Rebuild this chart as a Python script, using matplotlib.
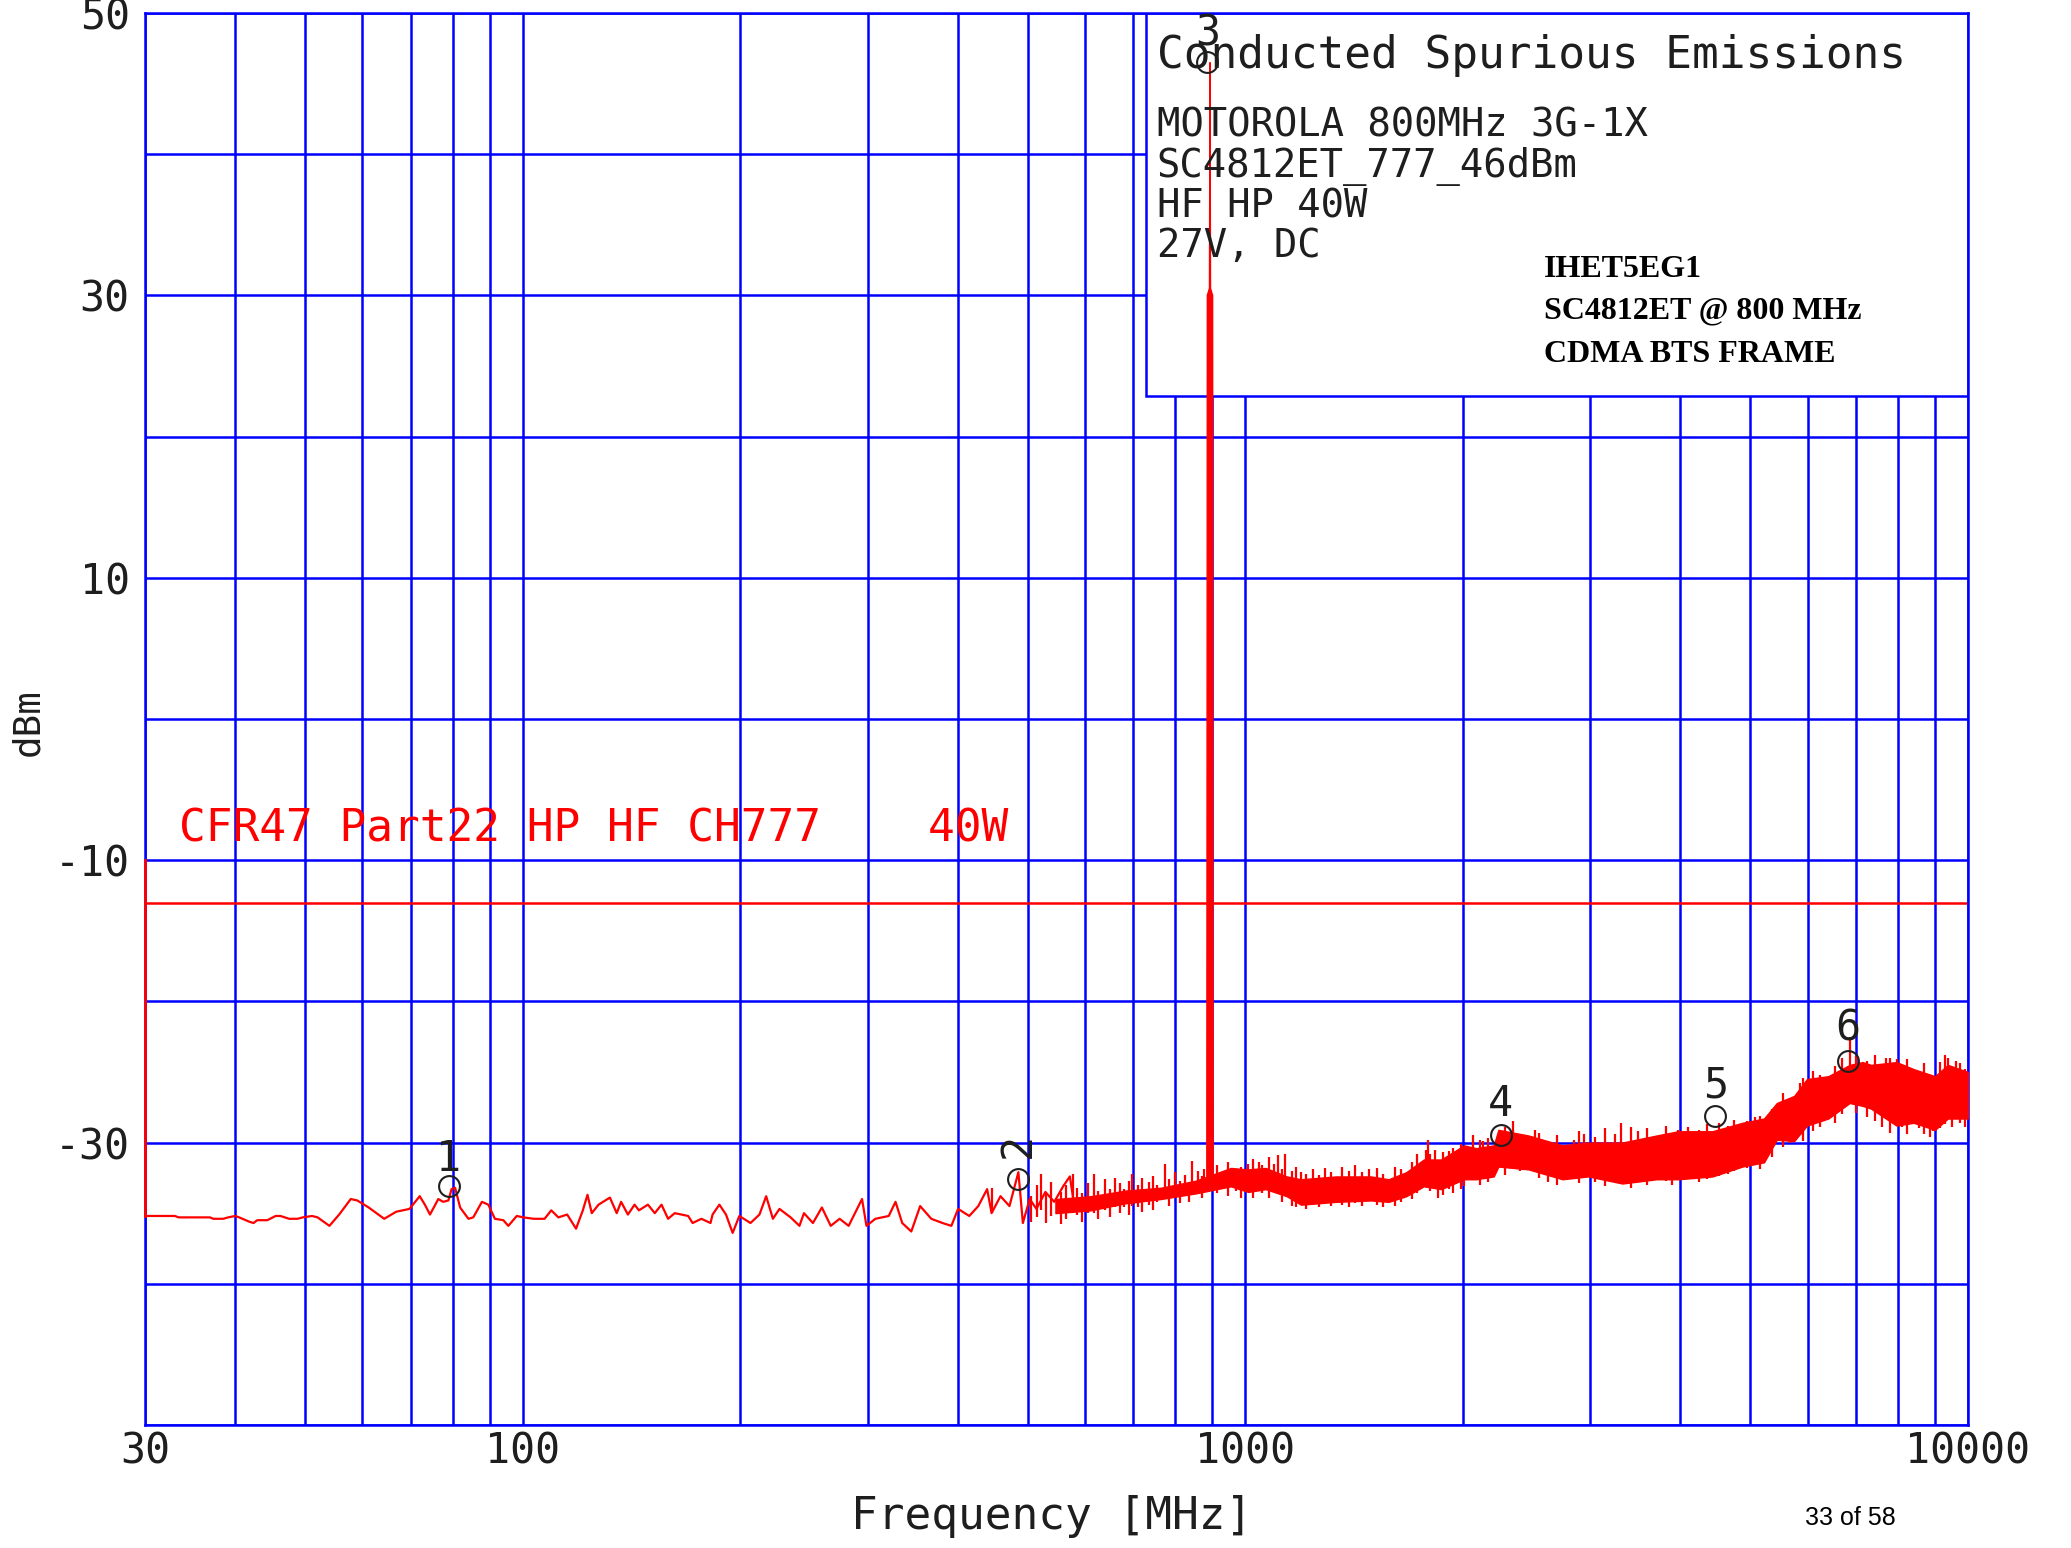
"""Conducted spurious emissions plot for the SC4812ET 800 MHz frame.

Spectrum-analyzer style sweep: log frequency axis, blue grid, red
trace with the -13 dBm limit line and numbered peak markers.
"""

import matplotlib

matplotlib.use("Agg")
import matplotlib.pyplot as plt
from matplotlib.patches import Rectangle
from matplotlib.ticker import NullFormatter

# --- sweep, low band (sparse enough to draw as a plain line) --------------
trace_freq = [
    30.0, 33.0, 33.4, 36.9, 37.3, 38.5, 39.1, 40.0, 40.5, 41.8, 42.4, 42.9,
    44.3, 45.5, 46.2, 47.5, 48.8, 49.6, 51.1, 52.0, 54.0, 55.7, 57.8, 59.0,
    61.2, 64.3, 66.8, 69.7, 72.0, 73.2, 74.4, 76.4, 77.6, 78.9, 79.7, 80.6,
    81.9, 84.1, 85.4, 87.8, 89.6, 91.5, 94.0, 95.5, 98.1, 100.2, 103.6,
    107.2, 109.5, 112.0, 115.2, 118.5, 121.1, 122.9, 124.6, 127.3, 132.0,
    134.9, 136.8, 139.8, 142.8, 144.8, 149.0, 152.3, 155.6, 158.9, 162.3,
    169.4, 171.8, 176.7, 181.9, 183.1, 187.1, 191.1, 195.2, 199.4, 206.6,
    212.6, 217.2, 221.9, 226.6, 234.8, 241.5, 245.0, 252.1, 259.4, 266.8,
    274.5, 282.5, 294.8, 299.0, 307.6, 321.0, 328.0, 335.1, 344.9, 354.8,
    367.6, 381.0, 391.9, 400.4, 414.9, 427.0, 439.2, 445.5, 458.3, 471.6,
    485.2, 492.2, 503.0, 514.0, 528.8, 544.0, 559.6, 571.7, 579.9,
]
trace_dbm = [
    -35.2, -35.2, -35.3, -35.3, -35.4, -35.4, -35.3, -35.2, -35.3, -35.6,
    -35.7, -35.5, -35.5, -35.2, -35.2, -35.4, -35.4, -35.3, -35.2, -35.3,
    -35.9, -35.1, -34.0, -34.1, -34.6, -35.4, -34.9, -34.7, -33.8, -34.4,
    -35.1, -34.0, -34.2, -34.1, -33.3, -33.2, -34.6, -35.4, -35.3, -34.2,
    -34.4, -35.4, -35.5, -35.9, -35.2, -35.3, -35.4, -35.4, -34.8, -35.3,
    -35.1, -36.1, -34.8, -33.7, -35.0, -34.4, -33.9, -35.0, -34.2, -35.1,
    -34.4, -34.8, -34.4, -35.0, -34.4, -35.4, -35.0, -35.2, -35.7, -35.4,
    -35.7, -35.1, -34.4, -35.1, -36.4, -35.2, -35.7, -35.1, -33.8, -35.4,
    -34.7, -35.3, -35.9, -35.0, -35.7, -34.6, -35.9, -35.4, -35.9, -34.0,
    -35.9, -35.4, -35.2, -34.2, -35.7, -36.3, -34.5, -35.4, -35.7, -35.9,
    -34.7, -35.2, -34.5, -33.3, -35.0, -33.8, -34.5, -32.1, -35.7, -34.0,
    -34.7, -33.5, -34.2, -33.1, -32.4, -34.5,
]

# --- sweep, high band (dense noise: min / max envelope) -------------------
band_freq = [
    546, 611, 683, 764, 854, 955, 1009, 1067, 1141, 1194, 1335, 1493, 1579,
    1670, 1766, 1867, 2008, 2087, 2207, 2240, 2465, 2748, 2982, 3325, 3709,
    3973, 4432, 4875, 5222, 5440, 5748, 5988, 6409, 6862, 7148, 7346, 7967,
    8413, 9006, 9382, 10000,
]
band_hi = [
    -34.0, -33.8, -33.4, -33.2, -32.7, -31.8, -31.9, -31.8, -32.4, -32.6,
    -32.4, -32.4, -32.6, -32.1, -31.2, -31.2, -30.2, -30.4, -30.2, -29.1,
    -29.5, -30.2, -30.0, -30.0, -29.5, -29.2, -29.2, -28.6, -28.3, -27.2,
    -26.7, -25.5, -25.3, -24.5, -24.3, -24.5, -24.3, -24.8, -25.3, -24.5,
    -25.0,
]
band_lo = [
    -35.0, -34.8, -34.3, -34.0, -33.6, -33.1, -33.5, -33.3, -33.8, -34.4,
    -34.2, -34.1, -34.2, -33.8, -33.1, -33.3, -32.6, -32.6, -32.4, -31.7,
    -31.9, -32.6, -32.4, -32.9, -32.6, -32.6, -32.4, -31.7, -31.4, -29.8,
    -29.9, -28.8, -28.3, -27.2, -27.4, -27.6, -28.8, -28.6, -29.1, -28.3,
    -28.3,
]

# single-bin excursions sticking out of the noise band
spike_freq = [
    446, 522, 577, 617, 660, 698, 773, 844, 878, 1009, 1043, 1110, 1136,
    1194, 1485, 1776, 1789, 1828, 1848, 1911, 2008, 2052, 2063, 2134, 2350,
    2516, 2941, 3311, 3973, 4524, 5082, 5670, 5907, 6862, 7703, 7967, 8944,
    9382, 9635,
]
spike_top = [
    -33.2, -32.2, -32.2, -32.2, -32.5, -32.2, -31.5, -31.3, -31.9, -31.5,
    -31.4, -30.9, -30.8, -32.1, -31.9, -30.5, -29.8, -30.5, -31.5, -30.6,
    -30.5, -30.4, -29.5, -29.9, -28.5, -29.1, -29.4, -28.6, -29.1, -28.6,
    -28.2, -27.5, -25.4, -22.5, -24.0, -24.1, -25.5, -24.0, -24.2,
]
spike_base = [
    -35.0, -34.8, -35.0, -35.0, -34.6, -34.5, -34.0, -33.6, -33.4, -33.5,
    -33.3, -33.5, -33.8, -34.4, -34.1, -33.1, -32.8, -33.2, -33.9, -33.3,
    -33.1, -32.6, -32.6, -32.5, -31.7, -31.9, -32.4, -32.9, -32.6, -32.4,
    -31.6, -30.0, -29.9, -27.2, -27.8, -28.8, -29.2, -28.3, -28.3,
]

# peak-to-peak swing of the noise between the envelope points
noise_freq = [
    505, 515, 530, 538, 555, 565, 585, 595, 605, 625, 640, 650, 670, 680,
    690, 710, 720, 735, 745, 755, 785, 800, 812, 825, 835, 860, 870,
    915, 930, 945, 970, 985, 1025, 1055, 1080, 1095, 1125, 1160, 1175,
    1215, 1240, 1265, 1290, 1315, 1360, 1390, 1420, 1450, 1520, 1550,
    1610, 1640, 1700, 1730, 1800, 1880, 1940, 1990, 2110, 2170,
    2290, 2400, 2550, 2620, 2700, 2850, 2900, 3050, 3150, 3250, 3420, 3500,
    3600, 3820, 3900, 4100, 4250, 4350, 4650, 4750, 4950, 5150, 5350,
    5550, 5850, 6100, 6250, 6550, 6700, 7000, 7250, 7450, 7600, 7800, 8100,
    8250, 8550, 8700, 8850, 9150, 9300, 9500, 9750, 9900,
]
noise_top = [
    -33.8, -33.0, -33.6, -32.8, -33.5, -33.0, -33.2, -33.6, -32.9, -33.4,
    -32.6, -33.3, -32.9, -33.3, -32.7, -33.0, -32.5, -32.8, -32.4, -33.0,
    -32.6, -32.1, -32.7, -32.3, -32.8, -32.0, -32.4,
    -31.6, -32.2, -31.4, -32.0, -31.7, -31.2, -31.6, -31.0, -31.5, -31.9,
    -32.0, -31.7, -32.2, -31.9, -32.3, -31.8, -32.1, -31.7, -32.0, -31.6,
    -32.1, -31.8, -32.2, -31.7, -31.9, -31.4, -30.8, -30.8, -30.7, -30.4,
    -30.1, -29.8, -29.7,
    -28.9, -29.6, -29.3, -30.0, -29.5, -29.8, -29.2, -29.6, -29.0, -29.4,
    -28.9, -29.2, -29.0, -28.8, -29.3, -28.9, -29.1, -28.7, -28.8, -28.4,
    -28.5, -28.1, -27.6,
    -26.5, -25.8, -24.9, -25.2, -24.6, -24.0, -23.9, -24.2, -23.8, -24.6,
    -24.0, -24.5, -24.1, -24.9, -24.4, -25.2, -24.3, -23.8, -24.7, -24.4,
    -24.8,
]
noise_base = [
    -35.6, -35.3, -35.7, -35.2, -35.8, -35.4, -35.1, -35.6, -35.0, -35.4,
    -34.8, -35.3, -35.0, -34.6, -35.1, -34.6, -34.9, -34.4, -34.8, -34.2,
    -34.5, -33.9, -34.3, -33.7, -34.2, -33.6, -33.9,
    -33.6, -33.2, -33.8, -33.4, -33.9, -33.9, -33.6, -33.9, -33.5, -34.2,
    -34.5, -34.6, -34.7, -34.4, -34.6, -34.3, -34.5, -34.4, -34.6, -34.3,
    -34.5, -34.4, -34.6, -34.5, -34.2, -34.0, -33.6, -33.4, -33.7, -33.6,
    -33.3, -33.0, -32.8,
    -32.3, -32.0, -32.5, -32.8, -33.0, -32.6, -32.9, -32.8, -33.1, -32.7,
    -33.2, -32.8, -33.0, -32.7, -33.0, -32.5, -32.8, -32.6, -32.2, -32.0,
    -31.8, -31.9, -31.0,
    -30.3, -29.5, -29.2, -28.9, -28.6, -28.0, -27.9, -28.2, -28.5, -28.9,
    -29.3, -28.9, -29.4, -29.0, -29.4, -29.6, -29.0, -28.7, -28.9, -28.6,
    -28.9,
]

# CH777 carrier (outline of the thick vertical line)
carrier_freq = [884.5, 886.0, 892.0, 893.6, 895.0, 901.0, 902.5]
carrier_dbm = [-32.5, 30.0, 30.5, 46.5, 30.5, 30.0, -32.5]

# limit line and the left edge riser
limit_freq = [30, 10000]
limit_dbm = [-13, -13]
edge_freq = [30, 30]
edge_dbm = [-10, -35.2]

# peak markers: label, frequency [MHz], marker level [dBm]
marker_labels = ["1", "2", "3", "4", "5", "6"]
marker_freq = [79, 485, 886, 2256, 4470, 6820]
marker_dbm = [-33.1, -32.6, 46.5, -29.5, -28.1, -24.2]
marker_text_dbm = [-32.0, -30.2, 47.7, -28.1, -26.8, -22.8]

x_major = [30, 100, 1000, 10000]
x_major_labels = ["30", "100", "1000", "10000"]
x_minor = [40, 50, 60, 70, 80, 90, 200, 300, 400, 500, 600, 700, 800, 900,
           2000, 3000, 4000, 5000, 6000, 7000, 8000, 9000]
y_major = [-30, -10, 10, 30, 50]
y_minor = [-50, -40, -20, 0, 20, 40]

info_lines = ["MOTOROLA 800MHz 3G-1X", "SC4812ET_777_46dBm", "HF HP 40W", "27V, DC"]
frame_lines = ["IHET5EG1", "SC4812ET @ 800 MHz", "CDMA BTS FRAME"]

BLUE = "#0000ff"
RED = "#ff0000"
INK = "#1e1e1e"

plt.rcParams["font.family"] = ["DejaVu Sans Mono"]

fig = plt.figure(figsize=(20.71, 15.48), dpi=100)
ax = fig.add_axes([0.0700, 0.0795, 0.8802, 0.9121])
ax.set_xscale("log")
ax.set_xlim(30, 10000)
ax.set_ylim(-50, 50)

# grid: every decade step on x, every 10 dB on y
ax.set_xticks(x_major)
ax.set_xticklabels(x_major_labels)
ax.set_xticks(x_minor, minor=True)
ax.xaxis.set_minor_formatter(NullFormatter())
ax.set_yticks(y_major)
ax.set_yticklabels([str(v) for v in y_major])
ax.set_yticks(y_minor, minor=True)
ax.set_axisbelow(True)
ax.grid(which="both", color=BLUE, linewidth=1.8)
ax.tick_params(which="both", length=0, colors=INK, labelsize=30)
ax.tick_params(axis="x", pad=4)
ax.tick_params(axis="y", pad=11)
for spine in ax.spines.values():
    spine.set_color(BLUE)
    spine.set_linewidth(1.8)

# legend box in the upper right hides the grid behind it
ax.add_patch(Rectangle((0.549, 0.7288), 0.451, 0.2712, transform=ax.transAxes,
                       facecolor="white", edgecolor=BLUE, linewidth=1.8, zorder=1.5))

ax.plot(limit_freq, limit_dbm, color=RED, linewidth=1.8, zorder=2)
ax.plot(edge_freq, edge_dbm, color=RED, linewidth=2.0, zorder=4, clip_on=False)
ax.text(0.0187, 0.4131, "CFR47 Part22 HP HF CH777    40W", transform=ax.transAxes,
        color=RED, fontsize=32, va="baseline", ha="left", zorder=3)

ax.plot(trace_freq, trace_dbm, color=RED, linewidth=1.6, zorder=3)
ax.fill_between(band_freq, band_lo, band_hi, color=RED, linewidth=1.0, zorder=3)
ax.vlines(spike_freq, spike_base, spike_top, color=RED, linewidth=1.6, zorder=3)
ax.vlines(noise_freq, noise_base, noise_top, color=RED, linewidth=1.6, zorder=3)
ax.fill(carrier_freq, carrier_dbm, color=RED, linewidth=1.0, zorder=3)

ax.plot(marker_freq, marker_dbm, linestyle="none", marker="o", markersize=15,
        markerfacecolor="none", markeredgecolor=INK, markeredgewidth=1.5, zorder=5)
for label, f, y in zip(marker_labels, marker_freq, marker_text_dbm):
    if label == "2":
        ax.text(f, y, label, rotation=90, ha="center", va="center",
                fontsize=30, color=INK, zorder=5)
    else:
        ax.text(f, y, label, ha="center", va="baseline", fontsize=30,
                color=INK, zorder=5)

# box texts
ax.text(0.5551, 0.9610, "Conducted Spurious Emissions", transform=ax.transAxes,
        fontsize=32, color=INK, va="baseline", ha="left", zorder=5)
for line, y in zip(info_lines, [0.9122, 0.8839, 0.8555, 0.8272]):
    ax.text(0.5551, y, line, transform=ax.transAxes, fontsize=28, color=INK,
            va="baseline", ha="left", zorder=5)
for line, y in zip(frame_lines, [0.8130, 0.7840, 0.7528]):
    ax.text(0.7674, y, line, transform=ax.transAxes, fontsize=23, color="black",
            family="Liberation Serif", fontweight="bold", va="baseline",
            ha="left", zorder=5)

fig.text(0.0138, 0.5338, "dBm", rotation=90, ha="center", va="center",
         fontsize=27, color=INK)
fig.text(0.508, 0.0123, "Frequency [MHz]", ha="center", va="baseline",
         fontsize=32, color=INK)
fig.text(0.8933, 0.0149, "33 of 58", ha="center", va="baseline", fontsize=18,
         color="black", family="Liberation Sans")

fig.savefig("out.png", dpi=100)
plt.close(fig)
